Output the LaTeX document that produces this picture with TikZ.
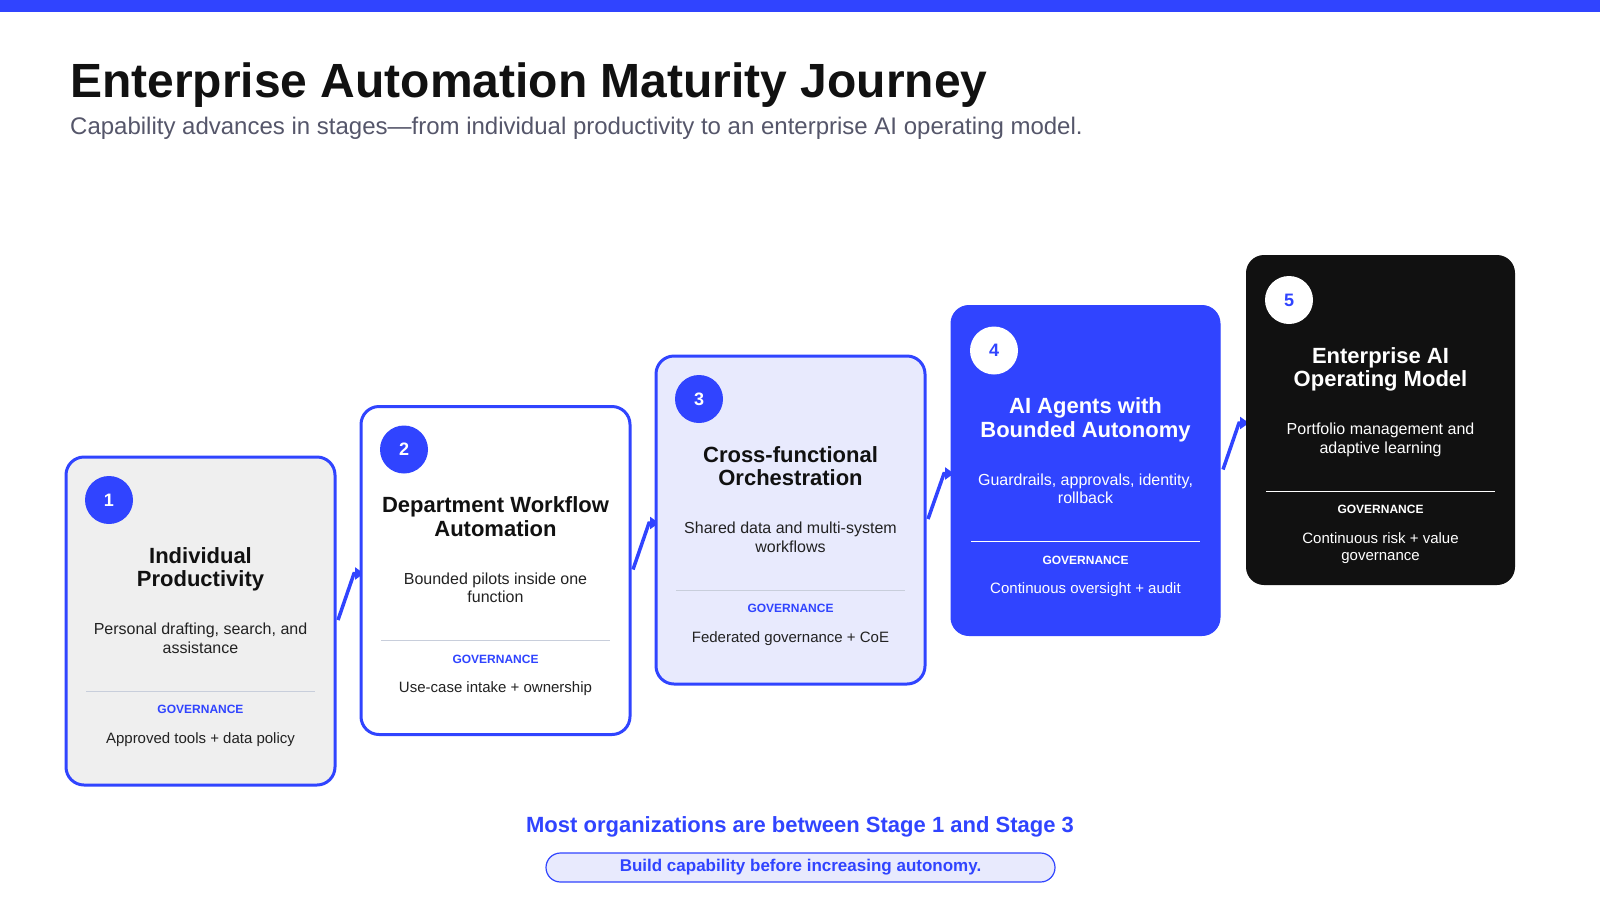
\documentclass[tikz,border=0pt]{standalone}
\usepackage{fontspec}
\setmainfont{Liberation Sans}
\usetikzlibrary{arrows.meta,calc}
\definecolor{brand}{HTML}{3044FF}
\definecolor{ink}{HTML}{111111}
\definecolor{body}{HTML}{222222}
\definecolor{subgray}{HTML}{55566A}
\definecolor{lavender}{HTML}{E8EAFD}
\definecolor{lightgray}{HTML}{EFEFEF}
\definecolor{rule}{HTML}{C8CEDB}
\pgfdeclarelayer{bg}
\pgfsetlayers{bg,main}
\tikzset{
  cardbase/.style={rounded corners=18pt, minimum width=269pt,
    anchor=north west, inner sep=0pt, outer sep=0pt},
  card1/.style={cardbase, minimum height=328pt, draw=brand, line width=3pt, fill=lightgray},
  card2/.style={cardbase, minimum height=328pt, draw=brand, line width=3pt, fill=white},
  card3/.style={cardbase, minimum height=328pt, draw=brand, line width=3pt, fill=lavender},
  card4/.style={cardbase, minimum height=330pt, draw=brand, line width=1pt, fill=brand},
  card5/.style={cardbase, minimum height=330pt, fill=ink},
  numlight/.style={circle, fill=brand, text=white, minimum size=48pt, inner sep=0pt,
    font=\fontsize{18}{18}\selectfont\bfseries},
  numdark/.style={circle, fill=white, text=brand, minimum size=48pt, inner sep=0pt,
    font=\fontsize{18}{18}\selectfont\bfseries},
  ctitle/.style={anchor=north, align=center, inner sep=0pt,
    font=\fontsize{22}{23.5}\selectfont\bfseries},
  cdesc/.style={anchor=north, align=center, inner sep=0pt,
    font=\fontsize{16}{18.4}\selectfont},
  glabel/.style={anchor=north, inner sep=0pt, font=\fontsize{12}{12}\selectfont\bfseries},
  gtext/.style={anchor=north, align=center, inner sep=0pt,
    font=\fontsize{15}{17.3}\selectfont},
  titlelight/.style={text=ink}, desclight/.style={text=body}, glabellight/.style={text=brand},
  divlight/.style={draw=rule, line width=1pt},
  titledark/.style={text=white}, descdark/.style={text=white}, glabeldark/.style={text=white},
  divdark/.style={draw=white, line width=1pt},
  conn/.style={draw=brand, line width=3.5pt, -{Triangle[length=9pt,width=12pt]}},
}
\newcommand\stagecard[5]{%
  \pgfmathsetmacro\cx{66+295*(#1-1)}%
  \pgfmathsetmacro\cy{457-50.5*(#1-1)}%
  \pgfmathsetmacro\dy{(#1>3)*2}%
  \node[card#1] (c#1) at (\cx,\cy) {};
  \node[num#2] (n#1) at ($(c#1.north west)+(43,43+\dy)$) {#1};
  \node[ctitle, title#2] (t#1) at ($(c#1.north)+(0,90+\dy)$) {#3};
  \node[cdesc, desc#2] (d#1) at ($(c#1.north)+(0,166+\dy)$) {#4};
  \draw[div#2] ($(c#1.north west)+(20,234+\dy)$) -- ($(c#1.north east)+(-20,234+\dy)$);
  \node[glabel, glabel#2] (g#1) at ($(c#1.north)+(0,248+\dy)$) {GOVERNANCE};
  \node[gtext, desc#2] (gt#1) at ($(c#1.north)+(0,275+\dy)$) {#5};
}
\begin{document}
\begin{tikzpicture}[x=1pt,y=-1pt]
\useasboundingbox (0,0) rectangle (1600,900);
\begin{pgfonlayer}{bg}
\fill[white] (0,0) rectangle (1600,900);
\end{pgfonlayer}
\node[fill=brand, minimum width=1600pt, minimum height=12pt, anchor=north west,
  inner sep=0pt, outer sep=0pt] (bar) at (0,0) {};
\node[anchor=base west, inner sep=0pt, text=ink,
  font=\fontsize{48}{48}\selectfont\bfseries] (title) at (70,97)
  {Enterprise Automation Maturity Journey};
\node[anchor=base west, inner sep=0pt, text=subgray,
  font=\fontsize{24}{24}\selectfont] (sub) at (70,134)
  {Capability advances in stages—from individual productivity to an enterprise AI operating model.};

\stagecard{1}{light}{Individual\\Productivity}{Personal drafting, search, and\\assistance}{Approved tools + data policy}
\stagecard{2}{light}{Department Workflow\\Automation}{Bounded pilots inside one\\function}{Use-case intake + ownership}
\stagecard{3}{light}{Cross-functional\\Orchestration}{Shared data and multi-system\\workflows}{Federated governance + CoE}
\stagecard{4}{dark}{AI Agents with\\Bounded Autonomy}{Guardrails, approvals, identity,\\rollback}{Continuous oversight + audit}
\stagecard{5}{dark}{Enterprise AI\\Operating Model}{Portfolio management and\\adaptive learning}{Continuous risk + value\\governance}

\begin{pgfonlayer}{bg}
\foreach \a/\b in {1/2,2/3,3/4,4/5}{
  \draw[conn] ($(c\a.east)+(3,-1)$) -- ($(c\b.west)+(-7,3)$) -- ($(c\b.west)+(3,3)$);
}
\end{pgfonlayer}

\node[anchor=base, inner sep=0pt, text=brand,
  font=\fontsize{22}{22}\selectfont\bfseries] (note) at (800,832)
  {Most organizations are between Stage 1 and Stage 3};
\node[draw=brand, line width=1.2pt, fill=lavender, rounded corners=14.5pt,
  minimum width=509pt, minimum height=29pt, inner sep=0pt, text=brand,
  font=\fontsize{17}{17}\selectfont\bfseries] (pill) at (800.5,867.5)
  {Build capability before increasing autonomy.};
\end{tikzpicture}
\end{document}
